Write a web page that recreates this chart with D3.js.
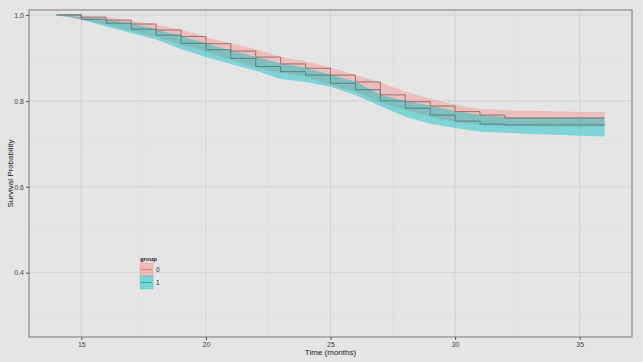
<!DOCTYPE html>
<html>
<head>
<meta charset="utf-8">
<script src="https://cdn.jsdelivr.net/npm/d3@7"></script>
<style>
  body { margin: 0; background: #e5e5e5; }
  text { font-family: "Liberation Sans", Arial, sans-serif; }
</style>
</head>
<body>
<div id="chart"></div>
<script>
const width = 643
const height = 362
const margin = { top: 10, bottom: 25, left: 29, right: 11 }

// months at which the curves are read
const months = [14, 15, 16, 17, 18, 19, 20, 21, 22, 23, 24, 25, 26, 27, 28, 29, 30, 31, 32, 33, 34, 35, 36]

// group 0 (survival + ribbon bounds)
const surv0  = [1.000, 0.995, 0.988, 0.979, 0.965, 0.950, 0.933, 0.916, 0.902, 0.886, 0.876, 0.860, 0.844, 0.814, 0.798, 0.788, 0.775, 0.767, 0.760, 0.760, 0.760, 0.760, 0.760]
const upper0 = [1.000, 0.999, 0.995, 0.987, 0.977, 0.966, 0.948, 0.934, 0.920, 0.903, 0.892, 0.878, 0.861, 0.843, 0.822, 0.805, 0.791, 0.781, 0.778, 0.777, 0.776, 0.774, 0.774]
const lower0 = [1.000, 0.988, 0.978, 0.963, 0.949, 0.930, 0.915, 0.896, 0.877, 0.865, 0.856, 0.837, 0.821, 0.796, 0.779, 0.763, 0.750, 0.743, 0.741, 0.741, 0.740, 0.740, 0.740]

// group 1
const surv1  = [1.000, 0.990, 0.981, 0.967, 0.953, 0.934, 0.919, 0.899, 0.880, 0.868, 0.860, 0.841, 0.826, 0.800, 0.783, 0.767, 0.753, 0.746, 0.744, 0.744, 0.744, 0.744, 0.744]
const upper1 = [1.000, 0.996, 0.989, 0.980, 0.966, 0.951, 0.934, 0.917, 0.903, 0.887, 0.877, 0.861, 0.845, 0.815, 0.799, 0.789, 0.776, 0.768, 0.762, 0.762, 0.762, 0.762, 0.762]
const lower1 = [1.000, 0.990, 0.973, 0.958, 0.943, 0.921, 0.902, 0.886, 0.870, 0.851, 0.844, 0.833, 0.814, 0.788, 0.763, 0.747, 0.737, 0.728, 0.726, 0.723, 0.721, 0.719, 0.717]

const groups = ["0", "1"]
const xTicks = [15, 20, 25, 30, 35]
const yTicks = [0.4, 0.6, 0.8, 1.0]

const fillColor = { "0": "#F8766D", "1": "#00BFC4" }
const lineColor = { "0": "#9c6e6b", "1": "#4b8585" }
const fillAlpha = { "0": 0.34, "1": 0.45 }

const series = [
  { key: "0", pts: months.map((m, i) => ({ t: m, s: surv0[i], lo: lower0[i], hi: upper0[i] })) },
  { key: "1", pts: months.map((m, i) => ({ t: m, s: surv1[i], lo: lower1[i], hi: upper1[i] })) }
]

const svg = d3.select("div#chart").append("svg").attr("width", width).attr("height", height)
svg.append("rect").attr("width", width).attr("height", height).attr("fill", "#e5e5e5")

const pw = width - margin.left - margin.right
const ph = height - margin.top - margin.bottom

const x = d3.scaleLinear().domain([12.9, 37.1]).range([0, pw])
const y = d3.scaleLinear().domain([0.2503, 1.0116]).range([ph, 0])

const plot = svg.append("g").attr("transform", `translate(${margin.left}, ${margin.top})`)

// grid
const minorX = [17.5, 22.5, 27.5, 32.5]
const minorY = [0.3, 0.5, 0.7, 0.9]
plot.selectAll("line.minx").data(minorX).enter().append("line")
  .attr("x1", d => x(d)).attr("x2", d => x(d)).attr("y1", 0).attr("y2", ph)
  .attr("stroke", "#dedede").attr("stroke-width", 0.6)
plot.selectAll("line.miny").data(minorY).enter().append("line")
  .attr("y1", d => y(d)).attr("y2", d => y(d)).attr("x1", 0).attr("x2", pw)
  .attr("stroke", "#dedede").attr("stroke-width", 0.6)
plot.selectAll("line.gx").data(xTicks).enter().append("line")
  .attr("x1", d => x(d)).attr("x2", d => x(d)).attr("y1", 0).attr("y2", ph)
  .attr("stroke", "#d2d2d2").attr("stroke-width", 1)
plot.selectAll("line.gy").data(yTicks).enter().append("line")
  .attr("y1", d => y(d)).attr("y2", d => y(d)).attr("x1", 0).attr("x2", pw)
  .attr("stroke", "#d2d2d2").attr("stroke-width", 1)

// ribbons
const area = d3.area().x(d => x(d.t)).y0(d => y(d.lo)).y1(d => y(d.hi))
plot.selectAll("path.ribbon").data(series).enter().append("path")
  .attr("d", d => area(d.pts))
  .attr("fill", d => fillColor[d.key]).attr("fill-opacity", d => fillAlpha[d.key]).attr("stroke", "none")

// step lines
const line = d3.line().x(d => x(d.t)).y(d => y(d.s)).curve(d3.curveStepAfter)
plot.selectAll("path.surv").data(series).enter().append("path")
  .attr("d", d => line(d.pts))
  .attr("fill", "none").attr("stroke", d => lineColor[d.key]).attr("stroke-width", 1)

// panel border
plot.append("rect").attr("width", pw).attr("height", ph)
  .attr("fill", "none").attr("stroke", "#8a8a8a").attr("stroke-width", 1.2)

// axes
const xAxis = d3.axisBottom(x).tickValues(xTicks).tickSize(3).tickPadding(2)
const yAxis = d3.axisLeft(y).tickValues(yTicks).tickSize(3).tickPadding(2).tickFormat(d3.format(".1f"))
const xg = plot.append("g").attr("transform", `translate(0, ${ph})`).call(xAxis)
const yg = plot.append("g").call(yAxis)
;[xg, yg].forEach(g => {
  g.select(".domain").remove()
  g.selectAll(".tick line").attr("stroke", "#555")
  g.selectAll(".tick text").attr("fill", "#444").style("font-size", "7px")
})

svg.append("text").text("Time (months)")
  .attr("x", margin.left + x(25)).attr("y", 355)
  .attr("text-anchor", "middle").style("font-size", "8px").attr("fill", "#222")
svg.append("text").text("Survival Probability")
  .attr("transform", `translate(13, ${margin.top + ph / 2}) rotate(-90)`)
  .attr("text-anchor", "middle").style("font-size", "8px").attr("fill", "#222")

// legend
const legend = svg.append("g").attr("transform", "translate(140, 255)")
legend.append("text").text("group").attr("x", 0).attr("y", 5.5)
  .style("font-size", "6px").style("font-weight", "bold").attr("fill", "#222")
groups.forEach((g, i) => {
  const ky = 8 + i * 13
  legend.append("rect").attr("x", 0).attr("y", ky).attr("width", 13).attr("height", 13)
    .attr("fill", fillColor[g]).attr("fill-opacity", fillAlpha[g]).attr("stroke", fillColor[g]).attr("stroke-opacity", 0.3)
  legend.append("line").attr("x1", 1).attr("x2", 12).attr("y1", ky + 6.5).attr("y2", ky + 6.5)
    .attr("stroke", fillColor[g]).attr("stroke-width", 1)
  legend.append("text").text(g).attr("x", 16).attr("y", ky + 9)
    .style("font-size", "6.5px").attr("fill", "#222")
})
</script>
</body>
</html>
